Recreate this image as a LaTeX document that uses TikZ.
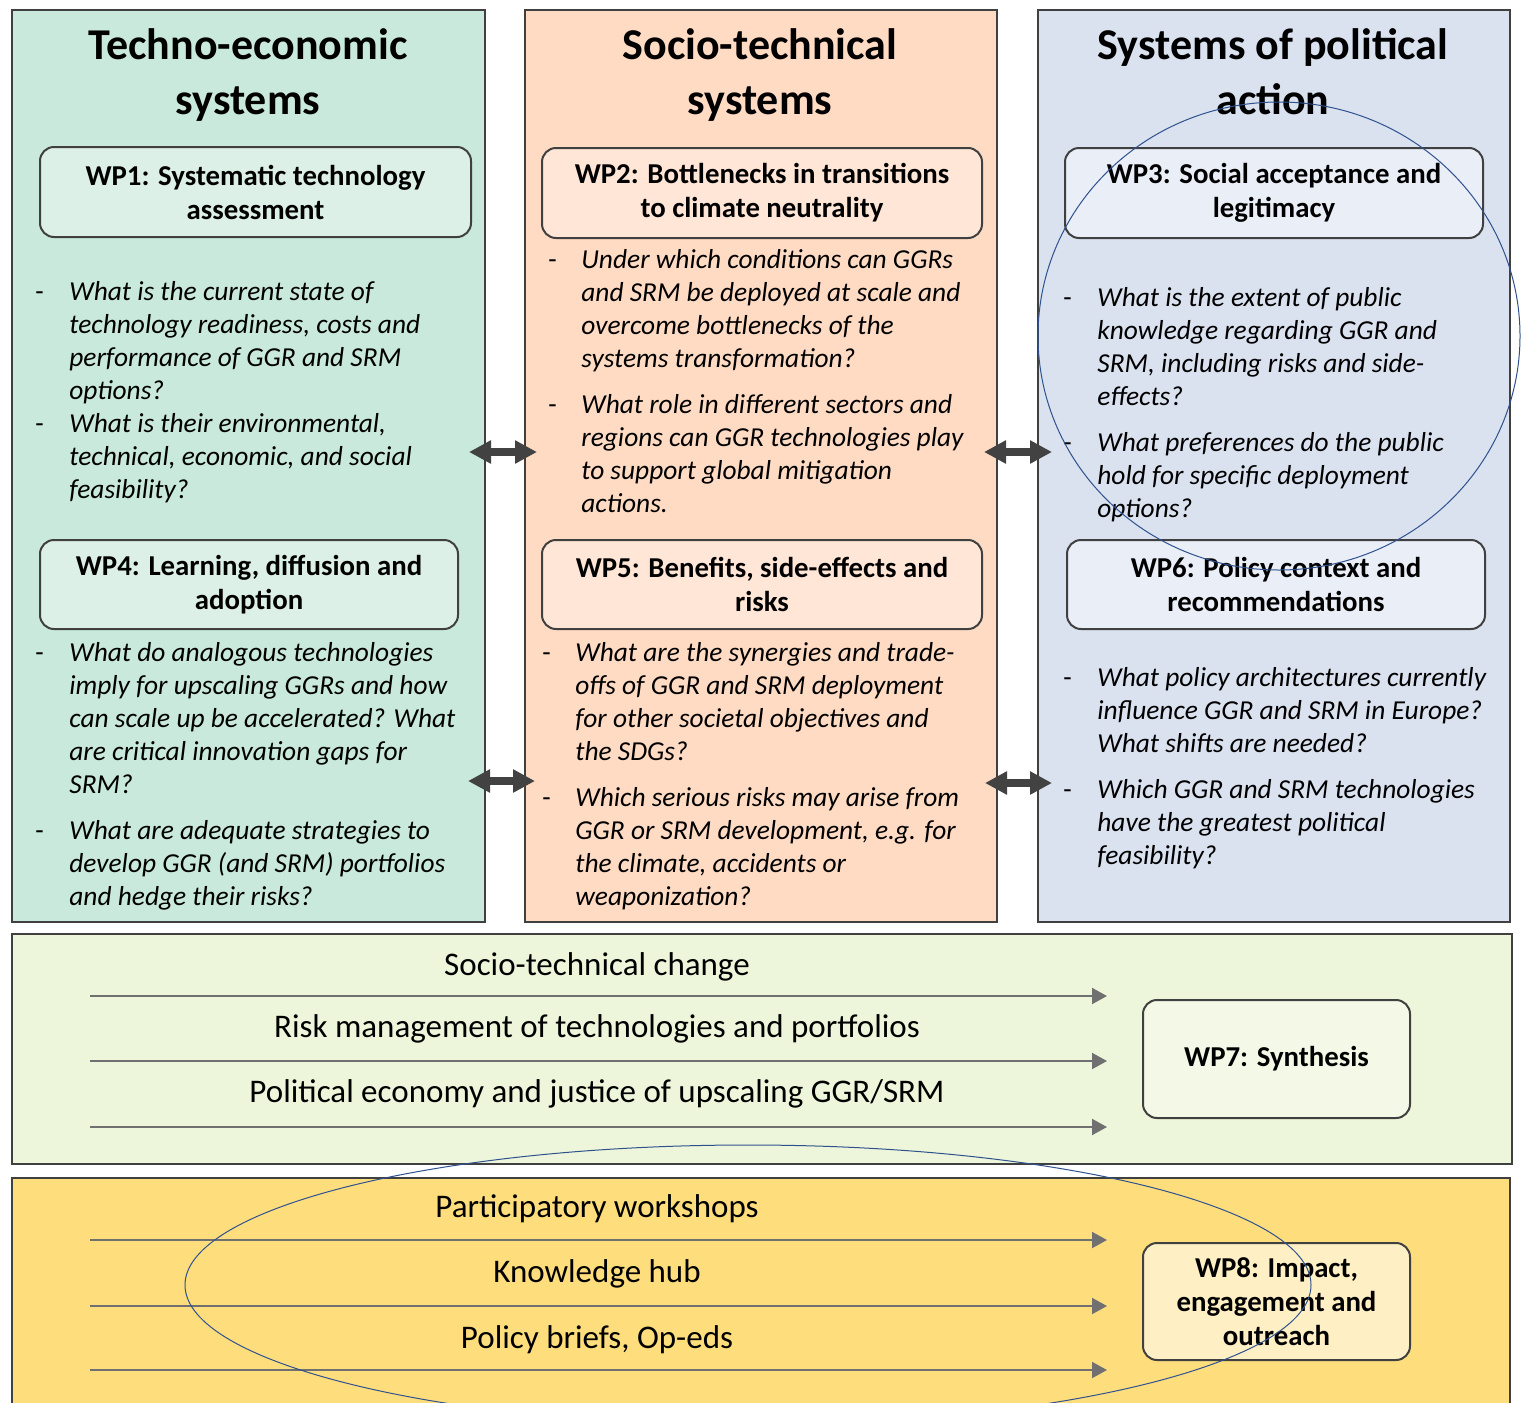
\documentclass[tikz,border=0pt]{standalone}
\usepackage{fontspec}
\setmainfont{Carlito}
\usepackage{array}
\usepackage{tikz}
\usetikzlibrary{arrows.meta}
\definecolor{edge}{RGB}{64, 64, 64}
\definecolor{mint}{RGB}{200, 233, 219}
\definecolor{mintlight}{RGB}{221, 240, 232}
\definecolor{peach}{RGB}{255, 219, 196}
\definecolor{peachlight}{RGB}{255, 230, 214}
\definecolor{steel}{RGB}{218, 225, 239}
\definecolor{steellight}{RGB}{233, 238, 247}
\definecolor{lime}{RGB}{237, 246, 218}
\definecolor{limelight}{RGB}{243, 249, 230}
\definecolor{gold}{RGB}{254, 221, 125}
\definecolor{goldlight}{RGB}{255, 239, 196}
\definecolor{linkgrey}{RGB}{66, 66, 66}
\definecolor{flowgrey}{RGB}{112, 112, 112}
\definecolor{ring}{RGB}{47, 82, 143}
\newcolumntype{Q}{>{\itshape}l}

\begin{document}
\begin{tikzpicture}[x=0.5pt, y=-0.5pt,
  panel/.style={draw=edge, line width=1pt},
  title/.style={align=center, font=\fontsize{22}{27.5}\selectfont\bfseries},
  wpbox/.style={draw=edge, line width=1pt, rounded corners=7pt, align=center,
    inner sep=0pt, font=\fontsize{14.4}{17}\selectfont\bfseries},
  question/.style={anchor=north west, inner sep=0pt, font=\fontsize{13.7}{16.5}\selectfont},
  flowlabel/.style={inner sep=0pt, font=\fontsize{16.5}{18}\selectfont},
  twoway/.style={draw=linkgrey, line width=3.8pt,
    {Triangle[width=11pt, length=11pt]}-{Triangle[width=11pt, length=11pt]}},
  flow/.style={draw=flowgrey, line width=1pt, -{Triangle[width=8pt, length=7.5pt]}},
  halo/.style={draw=ring, line width=0.5pt}]
  \useasboundingbox (0, 0) rectangle (1521, 1403);
  \clip (0, 0) rectangle (1521, 1403);
  \fill[white] (0, 0) rectangle (1521, 1403);

  % Techno-economic
  \draw[panel, fill=mint] (12, 10) rectangle (485, 922);
  \node[title] (t1) at (248, 75) {Techno-economic\\systems};
  \node[wpbox, fill=mintlight, minimum width=215.5pt, minimum height=45pt] (wp1) at (255.5, 192)
    {WP1: Systematic technology\\assessment};
  \node[question] (q1) at (35, 277) {\begin{tabular}{@{}p{17pt}@{}Q@{}}
    - & What is the current state of\\
      & technology readiness, costs and\\
      & performance of GGR and SRM\\
      & options?\\
    - & What is their environmental,\\
      & technical, economic, and social\\
      & feasibility?
  \end{tabular}};
  \node[wpbox, fill=mintlight, minimum width=209pt, minimum height=44.5pt] (wp4) at (249, 584.5)
    {WP4: Learning, diffusion and\\adoption};
  \node[question] (q4) at (35, 638) {\begin{tabular}{@{}p{17pt}@{}Q@{}}
    - & What do analogous technologies\\
      & imply for upscaling GGRs and how\\
      & can scale up be accelerated? What\\
      & are critical innovation gaps for\\
      & SRM?\\[6.5pt]
    - & What are adequate strategies to\\
      & develop GGR (and SRM) portfolios\\
      & and hedge their risks?
  \end{tabular}};

  % Socio-technical
  \draw[panel, fill=peach] (525, 10) rectangle (997, 922);
  \node[title] (t2) at (760, 75) {Socio-technical\\systems};
  \node[wpbox, fill=peachlight, minimum width=220pt, minimum height=45pt] (wp2) at (762, 193)
    {WP2: Bottlenecks in transitions\\to climate neutrality};
  \node[question] (q2) at (548, 245) {\begin{tabular}{@{}p{16.5pt}@{}Q@{}}
    - & Under which conditions can GGRs\\
      & and SRM be deployed at scale and\\
      & overcome bottlenecks of the\\
      & systems transformation?\\[6.5pt]
    - & What role in different sectors and\\
      & regions can GGR technologies play\\
      & to support global mitigation\\
      & actions.
  \end{tabular}};
  \node[wpbox, fill=peachlight, minimum width=220pt, minimum height=44.5pt] (wp5) at (762, 584.5)
    {WP5: Benefits, side-effects and\\risks};
  \node[question] (q5) at (542, 638) {\begin{tabular}{@{}p{16.5pt}@{}Q@{}}
    - & What are the synergies and trade-\\
      & offs of GGR and SRM deployment\\
      & for other societal objectives and\\
      & the SDGs?\\[6.5pt]
    - & Which serious risks may arise from\\
      & GGR or SRM development, e.g. for\\
      & the climate, accidents or\\
      & weaponization?
  \end{tabular}};

  % Political action
  \draw[panel, fill=steel] (1038, 10) rectangle (1510, 922);
  \node[title] (t3) at (1273, 72) {Systems of political\\action};
  \node[wpbox, fill=steellight, minimum width=209pt, minimum height=45pt] (wp3) at (1274, 193)
    {WP3: Social acceptance and\\legitimacy};
  \node[question] (q3) at (1063, 283) {\begin{tabular}{@{}p{17pt}@{}Q@{}}
    - & What is the extent of public\\
      & knowledge regarding GGR and\\
      & SRM, including risks and side-\\
      & effects?\\[6.5pt]
    - & What preferences do the public\\
      & hold for specific deployment\\
      & options?
  \end{tabular}};
  \node[wpbox, fill=steellight, minimum width=209pt, minimum height=44.5pt] (wp6) at (1276, 584.5)
    {WP6: Policy context and\\recommendations};
  \node[question] (q6) at (1063, 663) {\begin{tabular}{@{}p{17pt}@{}Q@{}}
    - & What policy architectures currently\\
      & influence GGR and SRM in Europe?\\
      & What shifts are needed?\\[6.5pt]
    - & Which GGR and SRM technologies\\
      & have the greatest political\\
      & feasibility?
  \end{tabular}};

  % Links between the columns
  \coordinate (lk1a) at (469, 452);
  \coordinate (lk1b) at (537, 452);
  \coordinate (lk2a) at (468, 781);
  \coordinate (lk2b) at (535, 781);
  \coordinate (lk3a) at (984, 452);
  \coordinate (lk3b) at (1052, 452);
  \coordinate (lk4a) at (985, 783);
  \coordinate (lk4b) at (1052, 783);
  \draw[twoway] (lk1a) -- (lk1b);
  \draw[twoway] (lk2a) -- (lk2b);
  \draw[twoway] (lk3a) -- (lk3b);
  \draw[twoway] (lk4a) -- (lk4b);

  % Synthesis
  \draw[panel, fill=lime] (12, 934) rectangle (1512, 1164);
  \node[flowlabel] (s1) at (597, 967) {Socio-technical change};
  \node[flowlabel] (s2) at (597, 1029) {Risk management of technologies and portfolios};
  \node[flowlabel] (s3) at (597, 1094) {Political economy and justice of upscaling GGR/SRM};
  \coordinate (s1a) at (90, 996);
  \coordinate (s1b) at (1107, 996);
  \coordinate (s2a) at (90, 1061);
  \coordinate (s2b) at (1107, 1061);
  \coordinate (s3a) at (90, 1127);
  \coordinate (s3b) at (1107, 1127);
  \draw[flow] (s1a) -- (s1b);
  \draw[flow] (s2a) -- (s2b);
  \draw[flow] (s3a) -- (s3b);
  \node[wpbox, fill=limelight, minimum width=133.5pt, minimum height=59pt] (wp7) at (1276.5, 1059)
    {WP7: Synthesis};

  % Impact
  \draw[panel, fill=gold] (12, 1178) rectangle (1510, 1440);
  \node[flowlabel] (o1) at (597, 1209) {Participatory workshops};
  \node[flowlabel] (o2) at (597, 1274) {Knowledge hub};
  \node[flowlabel] (o3) at (597, 1340) {Policy briefs, Op-eds};
  \coordinate (o1a) at (90, 1240);
  \coordinate (o1b) at (1107, 1240);
  \coordinate (o2a) at (90, 1306);
  \coordinate (o2b) at (1107, 1306);
  \coordinate (o3a) at (90, 1370);
  \coordinate (o3b) at (1107, 1370);
  \draw[flow] (o1a) -- (o1b);
  \draw[flow] (o2a) -- (o2b);
  \draw[flow] (o3a) -- (o3b);
  \node[wpbox, fill=goldlight, minimum width=133.5pt, minimum height=58.5pt] (wp8) at (1276.5, 1301.5)
    {WP8: Impact,\\engagement and\\outreach};

  % Rings
  \draw[halo] (1279, 336) ellipse [x radius=120.5pt, y radius=117pt];
  \draw[halo] (748, 1285) ellipse [x radius=281.5pt, y radius=70pt];

\end{tikzpicture}
\end{document}
